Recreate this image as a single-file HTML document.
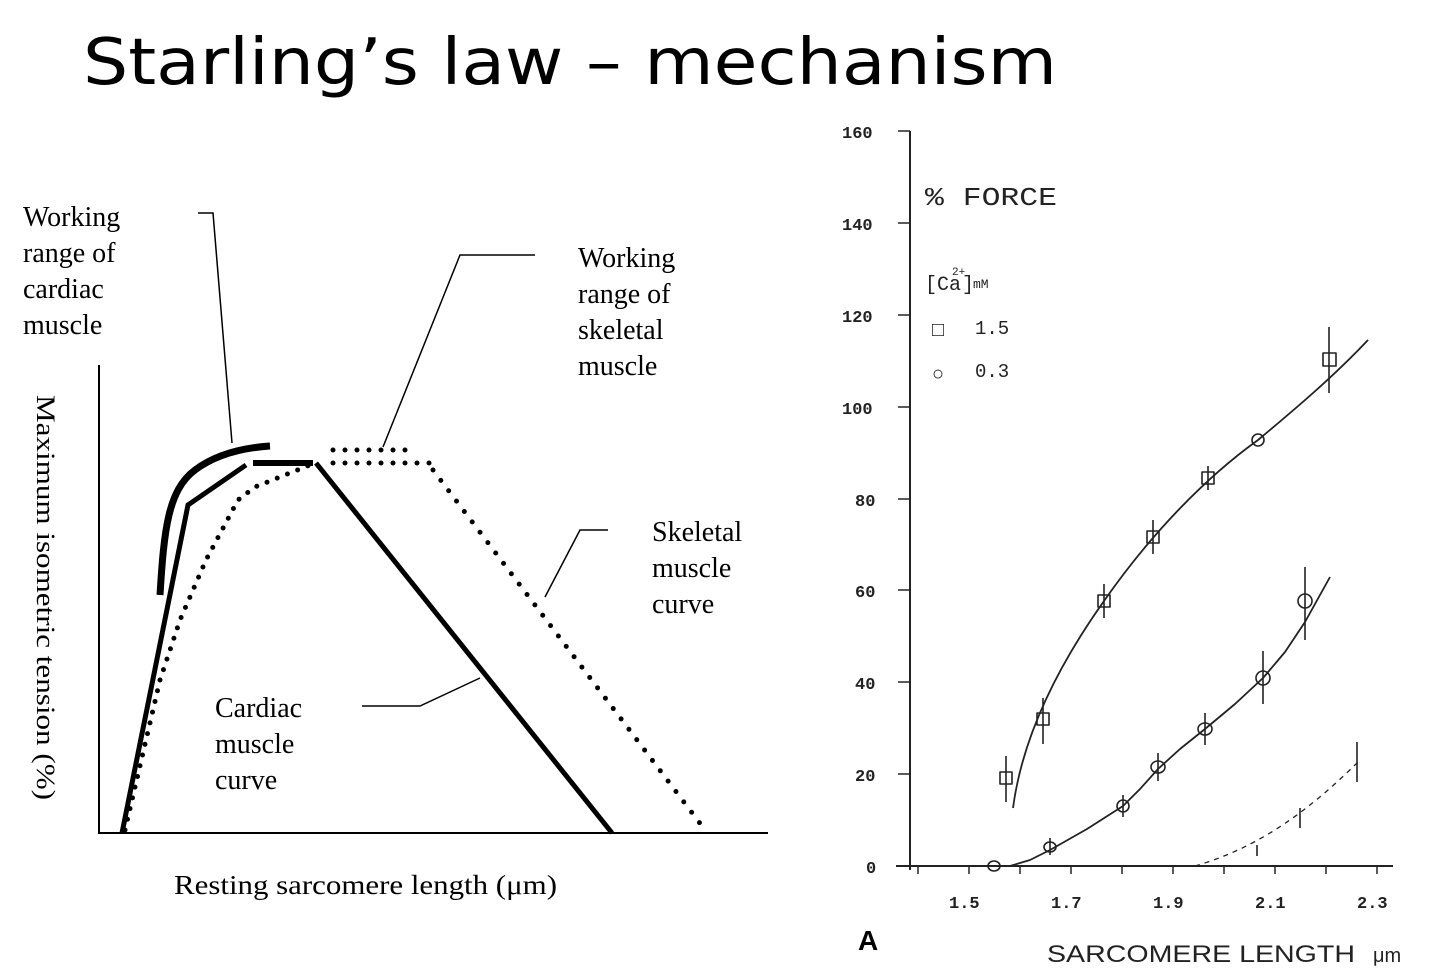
<!DOCTYPE html>
<html><head><meta charset="utf-8"><style>
html,body{margin:0;padding:0;background:#fff;width:1440px;height:976px;overflow:hidden}
svg{display:block}
.t{font-family:"Liberation Serif",serif;font-size:28px;fill:#000}
.m{font-family:"Liberation Mono",monospace;fill:#222}
</style></head><body>
<svg width="1440" height="976" viewBox="0 0 1440 976" xmlns="http://www.w3.org/2000/svg">
<text x="83" y="84" font-family="DejaVu Sans, sans-serif" font-size="64" textLength="974" lengthAdjust="spacingAndGlyphs">Starling’s law – mechanism</text>

<!-- Left chart -->
<g stroke="#000" fill="none">
<line x1="99" y1="365" x2="99" y2="834" stroke-width="2"/>
<line x1="98" y1="833" x2="768" y2="833" stroke-width="2"/>
<polyline points="122,833 188,505 246,465" stroke-width="5"/>
<line x1="253" y1="463" x2="313" y2="463" stroke-width="6"/>
<line x1="316" y1="463" x2="612" y2="833" stroke-width="5"/>
<path d="M160,595 C164,530 168,490 195,470 C215,455 240,448 270,446" stroke-width="7"/>
<path d="M125,830 L160,680 L180,620 L206,560 L238,500 L255,487 L315,463" stroke-width="5" stroke-dasharray="0 11" stroke-linecap="round"/>
<line x1="333" y1="463" x2="430" y2="463" stroke-width="5" stroke-dasharray="0 12" stroke-linecap="round"/>
<line x1="333" y1="450" x2="416" y2="450" stroke-width="5" stroke-dasharray="0 12" stroke-linecap="round"/>
<line x1="433" y1="470" x2="705" y2="830" stroke-width="5" stroke-dasharray="0 13" stroke-linecap="round"/>
<polyline points="198,213 213,213 232,443" stroke-width="1.5"/>
<polyline points="535,255 460,255 383,447" stroke-width="1.5"/>
<polyline points="608,530 580,530 545,597" stroke-width="1.5"/>
<polyline points="362,706 420,706 480,678" stroke-width="1.5"/>
</g>
<g class="t">
<text x="23" y="226">Working</text><text x="23" y="262">range of</text><text x="23" y="298">cardiac</text><text x="23" y="334">muscle</text>
<text x="578" y="267">Working</text><text x="578" y="303">range of</text><text x="578" y="339">skeletal</text><text x="578" y="375">muscle</text>
<text x="652" y="541">Skeletal</text><text x="652" y="577">muscle</text><text x="652" y="613">curve</text>
<text x="215" y="717">Cardiac</text><text x="215" y="753">muscle</text><text x="215" y="789">curve</text>
<text x="174" y="894" font-size="27" textLength="383" lengthAdjust="spacingAndGlyphs">Resting sarcomere length (μm)</text>
<text transform="translate(37,395) rotate(90)" font-size="26" textLength="405" lengthAdjust="spacingAndGlyphs">Maximum isometric tension (%)</text>
</g>

<!-- Right chart -->
<g stroke="#222" fill="none" stroke-width="2" stroke-linejoin="round">
<line x1="910" y1="131" x2="910" y2="870"/>
<line x1="896" y1="866" x2="1393" y2="866"/>
<g stroke-width="1.5">
<line x1="898" y1="131" x2="910" y2="131"/><line x1="898" y1="223" x2="910" y2="223"/><line x1="898" y1="315" x2="910" y2="315"/><line x1="898" y1="407" x2="910" y2="407"/><line x1="898" y1="499" x2="910" y2="499"/><line x1="898" y1="590" x2="910" y2="590"/><line x1="898" y1="682" x2="910" y2="682"/><line x1="898" y1="774" x2="910" y2="774"/>
<line x1="918" y1="866" x2="918" y2="874"/><line x1="969" y1="866" x2="969" y2="874"/><line x1="1020" y1="866" x2="1020" y2="874"/><line x1="1071" y1="866" x2="1071" y2="874"/><line x1="1122" y1="866" x2="1122" y2="874"/><line x1="1173" y1="866" x2="1173" y2="874"/><line x1="1224" y1="866" x2="1224" y2="874"/><line x1="1275" y1="866" x2="1275" y2="874"/><line x1="1326" y1="866" x2="1326" y2="874"/><line x1="1377" y1="866" x2="1377" y2="874"/>
</g>
<path d="M1013,808 C1022,740 1055,670 1104,601 C1150,535 1205,478 1258,440 C1300,405 1335,375 1368,340" stroke-width="1.8"/>
<polyline points="1010,866 1030,860 1050,850 1087,829 1123,806 1140,789 1158,769 1180,749 1205,729 1235,704 1263,678 1285,652 1305,622 1330,577" stroke-width="1.8"/>
<path d="M1195,866 C1250,850 1300,820 1360,760" stroke-width="1.3" stroke-dasharray="5 5"/>
<g stroke-width="1.6">
<rect x="1000" y="772" width="12" height="12"/><line x1="1006" y1="756" x2="1006" y2="802"/>
<rect x="1037" y="713" width="12" height="12"/><line x1="1043" y1="698" x2="1043" y2="744"/>
<rect x="1098" y="595" width="12" height="12"/><line x1="1104" y1="584" x2="1104" y2="618"/>
<rect x="1147" y="531" width="12" height="12"/><line x1="1153" y1="520" x2="1153" y2="554"/>
<rect x="1202" y="472" width="12" height="12"/><line x1="1208" y1="466" x2="1208" y2="490"/>
<ellipse cx="1258" cy="440" rx="6" ry="6"/>
<rect x="1323" y="353" width="13" height="13"/><line x1="1329" y1="327" x2="1329" y2="393"/>
<ellipse cx="994" cy="866" rx="6" ry="5"/>
<ellipse cx="1050" cy="847" rx="6" ry="5"/><line x1="1050" y1="838" x2="1050" y2="855"/>
<ellipse cx="1123" cy="806" rx="6" ry="6"/><line x1="1123" y1="795" x2="1123" y2="817"/>
<ellipse cx="1158" cy="767" rx="7" ry="6"/><line x1="1158" y1="753" x2="1158" y2="781"/>
<ellipse cx="1205" cy="729" rx="7" ry="6"/><line x1="1205" y1="713" x2="1205" y2="745"/>
<ellipse cx="1263" cy="678" rx="7" ry="7"/><line x1="1263" y1="651" x2="1263" y2="704"/>
<ellipse cx="1305" cy="601" rx="7" ry="7"/><line x1="1305" y1="567" x2="1305" y2="640"/>
<line x1="1257" y1="845" x2="1257" y2="856"/><line x1="1300" y1="808" x2="1300" y2="828"/><line x1="1357" y1="742" x2="1357" y2="782"/>
</g>
</g>
<g class="m" font-size="17" font-weight="bold">
<text x="842" y="138">160</text><text x="842" y="230">140</text><text x="842" y="322">120</text><text x="842" y="414">100</text>
<text x="855" y="506">80</text><text x="855" y="597">60</text><text x="855" y="689">40</text><text x="855" y="781">20</text><text x="866" y="873">0</text>
<text x="949" y="908">1.5</text><text x="1051" y="908">1.7</text><text x="1153" y="908">1.9</text><text x="1255" y="908">2.1</text><text x="1357" y="908">2.3</text>
</g>
<g class="m">
<text x="925" y="205" font-size="26" textLength="132" lengthAdjust="spacingAndGlyphs">% FORCE</text>
<text x="925" y="290" font-size="20">[Ca</text><text x="952" y="275" font-size="11">2+</text><text x="962" y="290" font-size="20">]</text><text x="973" y="288" font-size="13">mM</text>
<text x="932" y="336" font-size="20">□</text><text x="975" y="334" font-size="19">1.5</text>
<text x="932" y="380" font-size="20">○</text><text x="975" y="377" font-size="19">0.3</text>
<text x="1047" y="962" font-size="24" font-family="Liberation Sans, sans-serif" textLength="308" lengthAdjust="spacingAndGlyphs">SARCOMERE LENGTH</text>
<text x="1373" y="962" font-size="20" font-family="Liberation Sans, sans-serif">μm</text>
</g>
<text x="858" y="950" font-family="Liberation Sans, sans-serif" font-weight="bold" font-size="28">A</text>
</svg>
</body></html>
